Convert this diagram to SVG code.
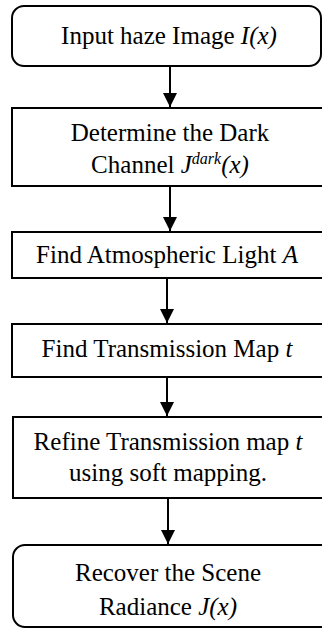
<svg xmlns="http://www.w3.org/2000/svg" width="322" height="632" viewBox="0 0 322 632">
<defs>
<style>
.box{fill:#fff;stroke:#000;stroke-width:2}
.t{font-family:"Liberation Serif","Times New Roman",serif;font-size:25px;fill:#000;text-anchor:middle}
.i{font-style:italic}
.sup{font-style:italic;font-size:16px}
.c{stroke:#000;stroke-width:2;fill:none}
</style>
<marker id="ah" markerUnits="userSpaceOnUse" markerWidth="16" markerHeight="14" refX="14" refY="7" orient="auto">
<path d="M0,0 L14,7 L0,14 Z" fill="#000"/>
</marker>
</defs>
<rect width="322" height="632" fill="#fff"/>
<g id="connectors">
<line class="c" x1="170" y1="66" x2="170" y2="107" marker-end="url(#ah)"/>
<line class="c" x1="170" y1="186" x2="170" y2="231" marker-end="url(#ah)"/>
<line class="c" x1="167" y1="278" x2="167" y2="323" marker-end="url(#ah)"/>
<line class="c" x1="167" y1="377" x2="167" y2="416" marker-end="url(#ah)"/>
<line class="c" x1="168" y1="498" x2="168" y2="544" marker-end="url(#ah)"/>
</g>
<g id="n1">
<rect class="box" x="12" y="6" width="309" height="60" rx="12"/>
<text class="t" x="169" y="44">Input haze Image <tspan class="i">I(x)</tspan></text>
</g>
<g id="n2">
<rect class="box" x="12" y="108" width="320" height="78"/>
<text class="t" x="170" y="141">Determine the Dark</text>
<text class="t" x="170" y="173">Channel <tspan class="i">J</tspan><tspan class="sup" dy="-9">dark</tspan><tspan class="i" dy="9">(x)</tspan></text>
</g>
<g id="n3">
<rect class="box" x="12" y="232" width="320" height="46"/>
<text class="t" x="167" y="263">Find Atmospheric Light <tspan class="i">A</tspan></text>
</g>
<g id="n4">
<rect class="box" x="12" y="324" width="320" height="53"/>
<text class="t" x="167" y="357">Find Transmission Map <tspan class="i">t</tspan></text>
</g>
<g id="n5">
<rect class="box" x="13" y="417" width="320" height="81"/>
<text class="t" x="168" y="450">Refine Transmission map <tspan class="i">t</tspan></text>
<text class="t" x="168" y="481">using soft mapping.</text>
</g>
<g id="n6">
<rect class="box" x="13" y="545" width="320" height="82" rx="12"/>
<text class="t" x="168" y="581">Recover the Scene</text>
<text class="t" x="168" y="615">Radiance <tspan class="i">J(x)</tspan></text>
</g>
</svg>
